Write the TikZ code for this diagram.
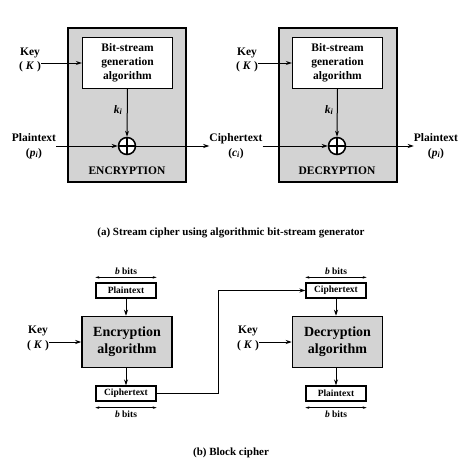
\documentclass[tikz,border=0pt]{standalone}
\usepackage{fontspec}
\setmainfont{Liberation Serif}
\usetikzlibrary{arrows.meta}
\definecolor{boxgray}{RGB}{211,211,211}
\newcommand{\var}[1]{\textit{#1}}
\newcommand{\vsub}[2]{\textit{#1}\textsubscript{\textit{#2}}}
\begin{document}
\begin{tikzpicture}[x=1pt,y=-1pt,
  lbl/.style={font=\fontsize{11.5}{14.5}\selectfont\bfseries, align=center, inner sep=0pt},
  bitlbl/.style={lbl, font=\fontsize{9.5}{11}\selectfont\bfseries},
  captxt/.style={font=\fontsize{11}{13}\selectfont\bfseries, inner sep=0pt},
  outerbox/.style={draw, line width=2.4pt, fill=boxgray, minimum width=118, minimum height=154},
  genbox/.style={draw, line width=1.3pt, fill=white, align=center, minimum width=90, minimum height=51,
    font=\fontsize{11.5}{14}\selectfont\bfseries},
  algbox/.style={draw, line width=1.5pt, fill=boxgray, align=center, minimum width=90, minimum height=51,
    font=\fontsize{14}{17}\selectfont\bfseries},
  txtbox/.style={draw, line width=1.3pt, fill=white, minimum width=60, minimum height=15, inner sep=0pt,
    font=\fontsize{9.5}{11}\selectfont\bfseries},
  xor/.style={circle, draw, line width=1.5pt, fill=white, minimum size=17, inner sep=0pt,
    path picture={\draw[line width=1.5pt] (path picture bounding box.north) -- (path picture bounding box.south)
      (path picture bounding box.west) -- (path picture bounding box.east);}},
  flow/.style={line width=1pt, -{Stealth[length=6pt,width=4pt]}},
  bits/.style={line width=0.6pt, {Stealth[length=4pt,width=2.5pt]}-{Stealth[length=4pt,width=2.5pt]}}]
\useasboundingbox (0,0) rectangle (464,463);

% (a) stream cipher, encryption side
\node[outerbox] (encbox) at (127,105) {};
\node[genbox] (encgen) at (127.5,63) {Bit-stream\\generation\\algorithm};
\node[xor] (encxor) at (127,146) {};
\node[lbl] (enckey) at (30,60) {Key\\( \var{K} )};
\node[lbl] (encki) at (118,110) {\vsub{k}{i}};
\node[lbl] (encpt) at (34,146) {Plaintext\\(\vsub{p}{i})};
\node[lbl] (enclab) at (127,171) {ENCRYPTION};
\node[lbl] (ct) at (236,146) {Ciphertext\\(\vsub{c}{i})};
\draw[flow] (enckey.east |- encgen.west) -- (encgen.west);
\draw[flow] (encgen.south) -- (encxor.north);
\draw[flow] (encpt.east) -- (encxor.west);
\draw[flow] (encxor.east) -- (ct.west);

% (a) stream cipher, decryption side
\node[outerbox] (decbox) at (338,105) {};
\node[genbox] (decgen) at (337.5,63) {Bit-stream\\generation\\algorithm};
\node[xor] (decxor) at (337,146) {};
\node[lbl] (deckey) at (247,60) {Key\\( \var{K} )};
\node[lbl] (decki) at (329,110) {\vsub{k}{i}};
\node[lbl] (decpt) at (436,146) {Plaintext\\(\vsub{p}{i})};
\node[lbl] (declab) at (337,171) {DECRYPTION};
\draw[flow] (deckey.east |- decgen.west) -- (decgen.west);
\draw[flow] (decgen.south) -- (decxor.north);
\draw[flow] (ct.east) -- (decxor.west);
\draw[flow] (decxor.east) -- (decpt.west);

\node[captxt] (capa) at (231,233) {(a) Stream cipher using algorithmic bit-stream generator};

% (b) block cipher
\node[txtbox] (encin) at (126,290.5) {Plaintext};
\node[algbox] (encalg) at (127,342) {Encryption\\algorithm};
\node[txtbox] (encout) at (126,393.5) {Ciphertext};
\node[lbl] (bkey1) at (38,338.5) {Key\\( \var{K} )};
\draw[bits] ([yshift=5pt]encin.north west) -- ([yshift=5pt]encin.north east)
  node[midway, above=2pt, bitlbl] {\var{b} bits};
\draw[bits] ([yshift=-6pt]encout.south west) -- ([yshift=-6pt]encout.south east)
  node[midway, below=3pt, bitlbl] {\var{b} bits};
\draw[flow] (encin.south) -- (encalg.north -| encin.south);
\draw[flow] (encalg.south -| encout.north) -- (encout.north);
\draw[flow] (bkey1.east |- encalg.west) -- (encalg.west);

\node[txtbox] (decin) at (336,290.5) {Ciphertext};
\node[algbox] (decalg) at (337.5,342) {Decryption\\algorithm};
\node[txtbox] (decout) at (336,393.5) {Plaintext};
\node[lbl] (bkey2) at (248,338.5) {Key\\( \var{K} )};
\draw[bits] ([yshift=5pt]decin.north west) -- ([yshift=5pt]decin.north east)
  node[midway, above=2pt, bitlbl] {\var{b} bits};
\draw[bits] ([yshift=-6pt]decout.south west) -- ([yshift=-6pt]decout.south east)
  node[midway, below=3pt, bitlbl] {\var{b} bits};
\draw[flow] (decin.south) -- (decalg.north -| decin.south);
\draw[flow] (decalg.south -| decout.north) -- (decout.north);
\draw[flow] (bkey2.east |- decalg.west) -- (decalg.west);

\draw[flow] (encout.east) -- ++(62,0) |- (decin.west);

\node[captxt] (capb) at (231,453) {(b) Block cipher};
\end{tikzpicture}
\end{document}
